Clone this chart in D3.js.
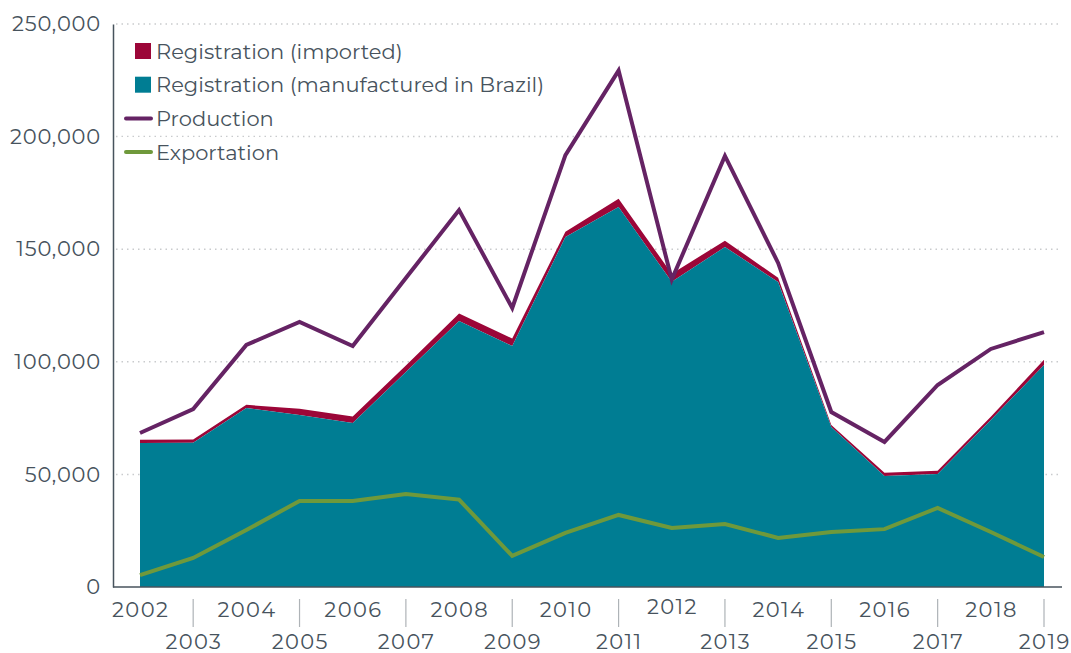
<!DOCTYPE html>
<html lang="en">
<head>
    <meta charset="UTF-8">
    <title>Registration, production and exportation</title>
    <style>
        body {
            margin: 0;
            background: #fff;
        }
        #chart text {
            font-family: "Montserrat", "Lato", "Open Sans", sans-serif;
            fill: #47535d;
        }
    </style>
    <script src="https://d3js.org/d3.v7.min.js"></script>
</head>
<body>
<div id="chart"></div>
<script>
    // Values
    const years = [2002, 2003, 2004, 2005, 2006, 2007, 2008, 2009, 2010, 2011, 2012, 2013, 2014, 2015, 2016, 2017, 2018, 2019];
    const manufactured = [63900, 64000, 79500, 76400, 72800, 95500, 118100, 107000, 155400, 168700, 135500, 151000, 135400, 71000, 49300, 50200, 74200, 98600];
    const imported = [1500, 1500, 1400, 2700, 2900, 2900, 3300, 3300, 2300, 3700, 3600, 2800, 1900, 900, 1400, 1400, 1400, 2300];
    const production = [68400, 79000, 107500, 117700, 107000, 137200, 167400, 123900, 191800, 229300, 136500, 191400, 143900, 77700, 64400, 89700, 105700, 113200];
    const exportation = [5300, 12900, 25300, 38200, 38200, 41300, 38800, 13800, 24000, 32000, 26200, 28000, 21800, 24400, 25700, 35100, 24400, 13300];
    const yTicks = [0, 50000, 100000, 150000, 200000, 250000];

    const colors = {
        imported: "#9c0638",
        manufactured: "#007d93",
        production: "#652364",
        exportation: "#6f993b"
    };

    const width = 1071, height = 653;
    const plotLeft = 113, plotRight = 1062, plotTop = 24, plotBottom = 587;

    const svg = d3.select("#chart").append("svg")
        .attr("width", width)
        .attr("height", height);

    const x = d3.scaleLinear().domain([2002, 2019]).range([140, 1044]);
    const y = d3.scaleLinear().domain([0, 250000]).range([plotBottom, plotTop]);

    // dotted gridlines
    svg.append("g")
        .selectAll("line")
        .data(yTicks.slice(1))
        .join("line")
        .attr("x1", plotLeft + 3)
        .attr("x2", plotRight)
        .attr("y1", d => y(d))
        .attr("y2", d => y(d))
        .attr("stroke", "#c9cbcd")
        .attr("stroke-width", 1.5)
        .attr("stroke-dasharray", "1.5 4");

    // stacked areas
    const rows = years.map((yr, i) => ({ year: yr, m: manufactured[i], t: manufactured[i] + imported[i] }));

    svg.append("path")
        .datum(rows)
        .attr("fill", colors.imported)
        .attr("d", d3.area().x(d => x(d.year)).y0(d => y(d.m)).y1(d => y(d.t)));

    svg.append("path")
        .datum(rows)
        .attr("fill", colors.manufactured)
        .attr("d", d3.area().x(d => x(d.year)).y0(y(0)).y1(d => y(d.m)));

    // lines
    const line = d3.line().x((d, i) => x(years[i])).y(d => y(d));

    svg.append("path")
        .datum(production)
        .attr("fill", "none")
        .attr("stroke", colors.production)
        .attr("stroke-width", 4)
        .attr("d", line);

    svg.append("path")
        .datum(exportation)
        .attr("fill", "none")
        .attr("stroke", colors.exportation)
        .attr("stroke-width", 4)
        .attr("d", line);

    // axes
    const yAxis = svg.append("g")
        .attr("transform", `translate(${plotLeft},0)`)
        .call(d3.axisLeft(y).tickValues(yTicks).tickSize(0).tickPadding(12).tickFormat(d3.format(",")));
    yAxis.select(".domain").attr("stroke", "#47535d").attr("stroke-width", 1.5);
    yAxis.selectAll("text")
        .style("font-size", "21px")
        .style("letter-spacing", "0.8px");

    svg.append("line")
        .attr("x1", plotLeft)
        .attr("x2", plotRight)
        .attr("y1", plotBottom)
        .attr("y2", plotBottom)
        .attr("stroke", "#47535d")
        .attr("stroke-width", 1.5);

    // x ticks at odd years, two rows of labels
    svg.append("g")
        .selectAll("line")
        .data(years.filter(d => d % 2 === 1))
        .join("line")
        .attr("x1", d => x(d))
        .attr("x2", d => x(d))
        .attr("y1", 599)
        .attr("y2", 627)
        .attr("stroke", "#aeb3b7")
        .attr("stroke-width", 1.2);

    svg.append("g")
        .selectAll("text")
        .data(years)
        .join("text")
        .attr("x", d => x(d) + 0.7)
        .attr("y", d => d % 2 === 0 ? (d === 2012 ? 614 : 617) : 649)
        .attr("text-anchor", "middle")
        .style("font-size", "21px")
        .style("letter-spacing", "1.4px")
        .text(d => d);

    // legend
    const legendItems = [
        { label: "Registration (imported)", color: colors.imported, type: "box" },
        { label: "Registration (manufactured in Brazil)", color: colors.manufactured, type: "box" },
        { label: "Production", color: colors.production, type: "line" },
        { label: "Exportation", color: colors.exportation, type: "line" }
    ];

    const legend = svg.append("g");
    legendItems.forEach((d, i) => {
        const cy = 51 + i * 33.7;
        const g = legend.append("g");
        const bg = g.append("rect").attr("fill", "#fff");
        if (d.type === "box") {
            g.append("rect")
                .attr("x", 135).attr("y", cy - 8)
                .attr("width", 16).attr("height", 16)
                .attr("fill", d.color);
        } else {
            g.append("line")
                .attr("x1", 126).attr("x2", 151)
                .attr("y1", cy).attr("y2", cy)
                .attr("stroke", d.color)
                .attr("stroke-width", 4)
                .attr("stroke-linecap", "round");
        }
        const t = g.append("text")
            .attr("x", 156)
            .attr("y", cy + 7.5)
            .style("font-size", "21px")
            .text(d.label);
        const bb = t.node().getBBox();
        bg.attr("x", 120).attr("y", cy - 15)
            .attr("width", bb.x + bb.width - 120 + 6)
            .attr("height", 30);
    });
</script>
</body>
</html>
